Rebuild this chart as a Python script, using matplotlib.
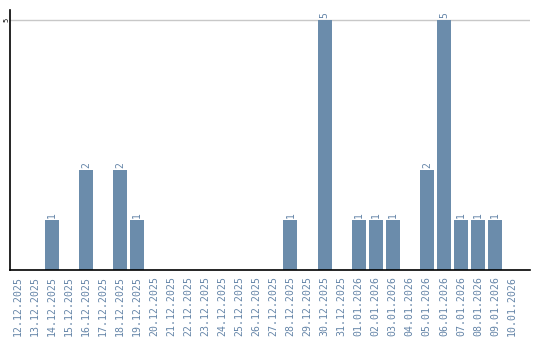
import matplotlib
matplotlib.use("Agg")
import matplotlib.pyplot as plt

dates = ["12.12.2025", "13.12.2025", "14.12.2025", "15.12.2025", "16.12.2025",
         "17.12.2025", "18.12.2025", "19.12.2025", "20.12.2025", "21.12.2025",
         "22.12.2025", "23.12.2025", "24.12.2025", "25.12.2025", "26.12.2025",
         "27.12.2025", "28.12.2025", "29.12.2025", "30.12.2025", "31.12.2025",
         "01.01.2026", "02.01.2026", "03.01.2026", "04.01.2026", "05.01.2026",
         "06.01.2026", "07.01.2026", "08.01.2026", "09.01.2026", "10.01.2026"]
values = [0, 0, 1, 0, 2, 0, 2, 1, 0, 0, 0, 0, 0, 0, 0, 0, 1, 0, 5, 0,
          1, 1, 1, 0, 2, 5, 1, 1, 1, 0]

bar_color = "#6b8cab"
label_color = "#6585a8"

fig = plt.figure(figsize=(5.4, 3.4), dpi=100)
ax = fig.add_axes([10/540, 1 - 270/340, 520/540, 260/340])

x = list(range(len(dates)))
ax.bar(x, values, width=0.82, color=bar_color, zorder=2)
for xi, v in zip(x, values):
    if v > 0:
        ax.text(xi, v + 0.05, str(v), rotation=90, ha="center", va="bottom",
                fontsize=7, color=label_color, family="DejaVu Sans Mono")

ax.set_xlim(-0.45, 30.05)
ax.set_ylim(0, 5.2)
ax.set_yticks([5])
ax.set_yticklabels(["5"], rotation=90, va="center", fontsize=5,
                   family="DejaVu Sans Mono")
ax.yaxis.grid(True, color="#c8c8c8", linewidth=1, zorder=0)
ax.set_axisbelow(True)
ax.tick_params(axis="y", length=0, pad=0.5)
ax.set_xticks(x)
ax.set_xticklabels(dates, rotation=90, fontsize=7.1, color=label_color,
                   family="DejaVu Sans Mono")
ax.tick_params(axis="x", length=0, pad=4.5)
for s in ["top", "right"]:
    ax.spines[s].set_visible(False)
ax.spines["left"].set_color("black")
ax.spines["bottom"].set_color("black")
ax.spines["left"].set_linewidth(1.2)
ax.spines["bottom"].set_linewidth(1.2)

fig.savefig("out.png", dpi=100)
